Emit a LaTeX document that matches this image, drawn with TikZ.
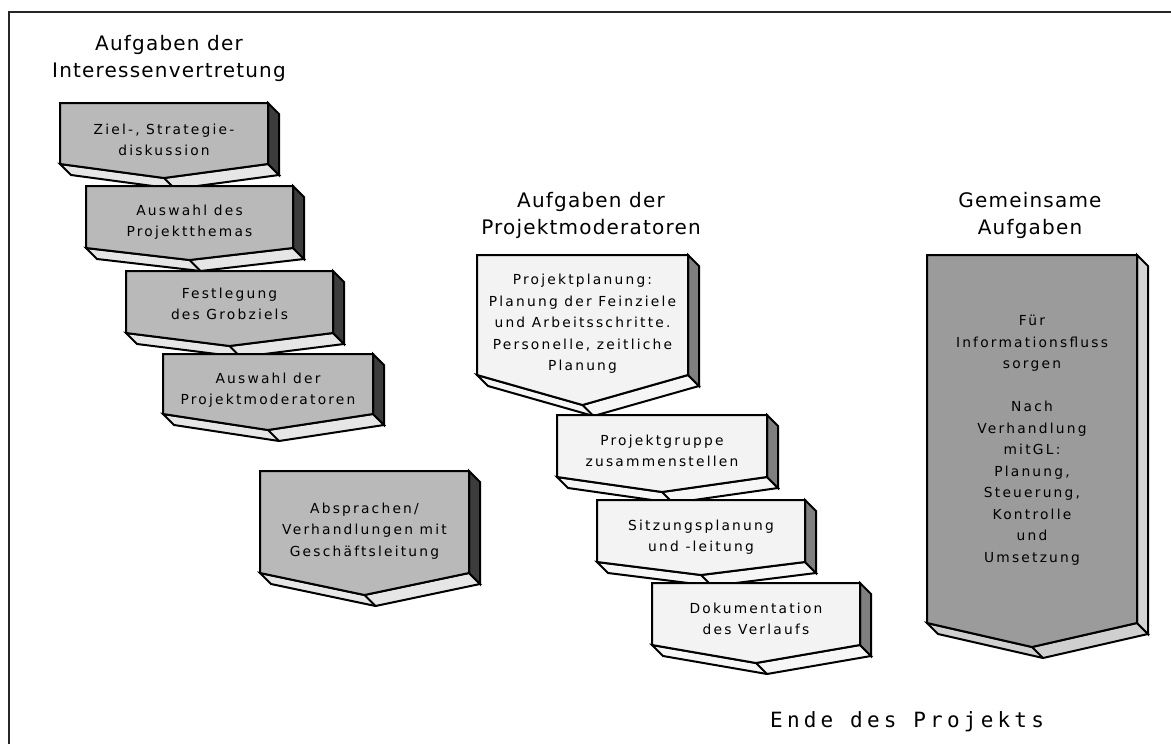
\documentclass[tikz,border=0pt]{standalone}
\usepackage{fontspec}
\setmainfont{DejaVu Sans}
\newfontfamily\hdfont[LetterSpace=6]{DejaVu Sans}
\newfontfamily\bxfont[LetterSpace=16]{DejaVu Sans}
\newfontfamily\endfont[LetterSpace=20]{DejaVu Sans Mono}

\definecolor{lfront}{HTML}{B9B9B9}
\definecolor{lside}{HTML}{3C3C3C}
\definecolor{lunder}{HTML}{E6E6E6}
\definecolor{mfront}{HTML}{F3F3F3}
\definecolor{mside}{HTML}{7F7F7F}
\definecolor{munder}{HTML}{F6F6F6}
\definecolor{bfront}{HTML}{9B9B9B}
\definecolor{bside}{HTML}{D4D4D4}
\definecolor{bunder}{HTML}{CFCFCF}

\tikzset{
  outline/.style={draw=black, line width=2pt, line join=miter},
  grayfront/.style={outline, fill=lfront},
  grayside/.style={outline, fill=lside},
  grayunder/.style={outline, fill=lunder},
  lightfront/.style={outline, fill=mfront},
  lightside/.style={outline, fill=mside},
  lightunder/.style={outline, fill=munder},
  darkfront/.style={outline, fill=bfront},
  darkside/.style={outline, fill=bside},
  darkunder/.style={outline, fill=bunder},
  boxtext/.style={align=center, inner sep=0pt, font=\bxfont\fontsize{13.8}{21.5}\selectfont},
  headtext/.style={align=center, inner sep=0pt, font=\hdfont\fontsize{20}{27}\selectfont},
  endtext/.style={inner sep=0pt, font=\endfont\fontsize{21}{25}\selectfont},
  frameline/.style={draw=black!85, line width=2pt}
}

% depth of the extruded side and underside
\def\dd{11}

% #1 name, #2 left, #3 top, #4 right, #5 bottom of the sides,
% #6 tip of the chevron, #7 colour scheme, #8 text centre y, #9 text
\newcommand\chevblock[9]{%
  \pgfmathsetmacro\cx{(#2+#4)/2}%
  \path[#7under] (#2,#5) -- (\cx,#6) -- (#4,#5) -- (#4+\dd,#5+\dd)
     -- (\cx+\dd,#6+\dd) -- (#2+\dd,#5+\dd) -- cycle;
  \draw[outline] (\cx,#6) -- (\cx+\dd,#6+\dd);
  \path[#7side] (#4,#3) -- (#4+\dd,#3+\dd) -- (#4+\dd,#5+\dd) -- (#4,#5) -- cycle;
  \path[#7front] (#2,#3) -- (#4,#3) -- (#4,#5) -- (\cx,#6) -- (#2,#5) -- cycle;
  \node[boxtext] (#1) at (\cx,#8) {#9};
}

\begin{document}
\begin{tikzpicture}[x=1pt,y=-1pt]
  \useasboundingbox[fill=white] (0,0) rectangle (1171,744);
  \draw[frameline] (8.5,744) -- (8.5,11.5) -- (1171,11.5);

  % column headings
  \node[headtext] (hleft) at (169,58) {Aufgaben der\\Interessenvertretung};
  \node[headtext] (hmid) at (591,215) {Aufgaben der\\Projektmoderatoren};
  \node[headtext] (hright) at (1030,215) {Gemeinsame\\Aufgaben};

  % tasks of the works council
  \chevblock{ziel}{60}{103}{268}{164}{178}{gray}{140}{Ziel-, Strategie-\\diskussion}
  \chevblock{thema}{86}{186}{293}{248}{260}{gray}{222}{Auswahl des\\Projektthemas}
  \chevblock{grob}{126}{271}{333}{333}{346}{gray}{304}{Festlegung\\des Grobziels}
  \chevblock{moder}{163}{354}{373}{414}{430}{gray}{390}{Auswahl der\\Projektmoderatoren}
  \chevblock{abspr}{260}{471}{469}{573}{595}{gray}{531}{Absprachen/\\Verhandlungen mit\\Geschäftsleitung}

  % tasks of the project moderators
  \chevblock{plan}{477}{255}{688}{375}{405}{light}{324}{Projektplanung:\\Planung der Feinziele\\und Arbeitsschritte.\\Personelle, zeitliche\\Planung}
  \chevblock{gruppe}{557}{415}{767}{477}{492}{light}{451}{Projektgruppe\\zusammenstellen}
  \chevblock{sitz}{597}{500}{805}{562}{575}{light}{537}{Sitzungsplanung\\und -leitung}
  \chevblock{doku}{652}{583}{860}{645}{663}{light}{619}{Dokumentation\\des Verlaufs}

  % joint tasks
  \chevblock{gemein}{927}{255}{1137}{623}{647}{dark}{440}{Für\\Informationsfluss\\sorgen\\[21.5pt]Nach\\Verhandlung\\mit\,GL:\\Planung,\\Steuerung,\\Kontrolle\\und\\Umsetzung}

  \node[endtext, anchor=base west] (ende) at (770,727) {Ende des Projekts};
\end{tikzpicture}
\end{document}
